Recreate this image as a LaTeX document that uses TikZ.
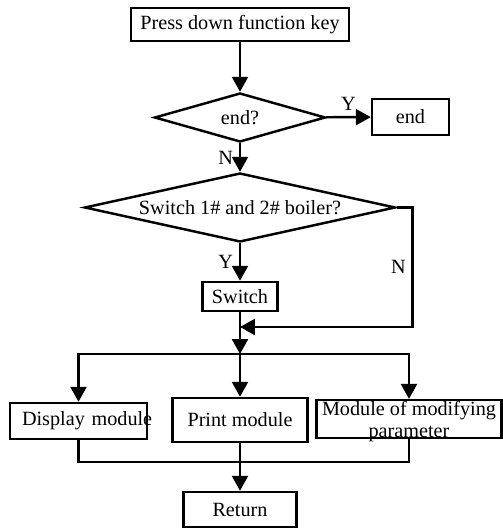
\documentclass[tikz,border=0pt]{standalone}
\usepackage{fontspec}
\setmainfont{Liberation Serif}
\usetikzlibrary{arrows.meta,shapes.geometric}

\begin{document}
\begin{tikzpicture}[x=0.02cm, y=-0.02cm,
  font=\fontsize{11.5}{12.5}\selectfont,
  box/.style={draw, line width=1.4pt, inner sep=2pt},
  dia/.style={draw, diamond, line width=1.4pt, inner sep=0pt},
  arr/.style={-{Triangle[length=3mm,width=3.2mm]}, line width=1.4pt},
  lin/.style={line width=1.4pt}]
  \useasboundingbox (0,0) rectangle (503,528);
  \node[box, minimum width=4.36cm, minimum height=0.66cm] (key) at (240,24.5) {Press down function key};
  \node[dia, aspect=3.5, minimum width=3.42cm, minimum height=0.98cm] (end1) at (240,117.5) {end?};
  \node[box, minimum width=1.54cm, minimum height=0.72cm] (stop) at (410.5,117) {end};
  \node[dia, aspect=4.5, minimum width=6.22cm, minimum height=1.38cm] (sw1) at (240,207.5) {Switch 1\# and 2\# boiler?};
  \node[box, minimum width=1.5cm, minimum height=0.58cm] (sw) at (240,296.5) {Switch};
  \coordinate (mrg) at (240,327);
  \coordinate (split) at (240,354);
  \node[box, minimum width=2.74cm, minimum height=0.72cm, inner xsep=0.24cm,
        text width=2.26cm] (disp) at (78.5,421) {\mbox{Display module}};
  \node[box, minimum width=2.7cm, minimum height=0.88cm] (prn) at (240,420) {Print module};
  \node[box, minimum width=3.7cm, inner ysep=0pt, text height=21.5pt, text depth=0pt,
        align=center] (mod) at (409,419) {Module of modifying\\parameter};
  \coordinate (join) at (240,462);
  \node[box, minimum width=2.26cm, minimum height=0.7cm] (ret) at (240,509.5) {Return};
  % main line
  \draw[arr] (key) -- (end1);
  \draw[arr] (end1) -- (stop) node[midway, above] {Y};
  \draw[arr] (end1) -- (sw1) node[midway, left] {N};
  \draw[arr] (sw1) -- (sw) node[midway, left] {Y};
  \draw[arr] (sw1.east) -- ++(16,0) |- (mrg) node[pos=0.25, left] {N};
  \draw[arr] (sw) -- (split);
  % three modules
  \draw[arr] (split) -| (disp);
  \draw[arr] (split) -- (prn);
  \draw[arr] (split) -| (mod);
  \draw[lin] (disp) |- (join) -| (mod);
  \draw[arr] (prn) -- (ret);
\end{tikzpicture}
\end{document}
